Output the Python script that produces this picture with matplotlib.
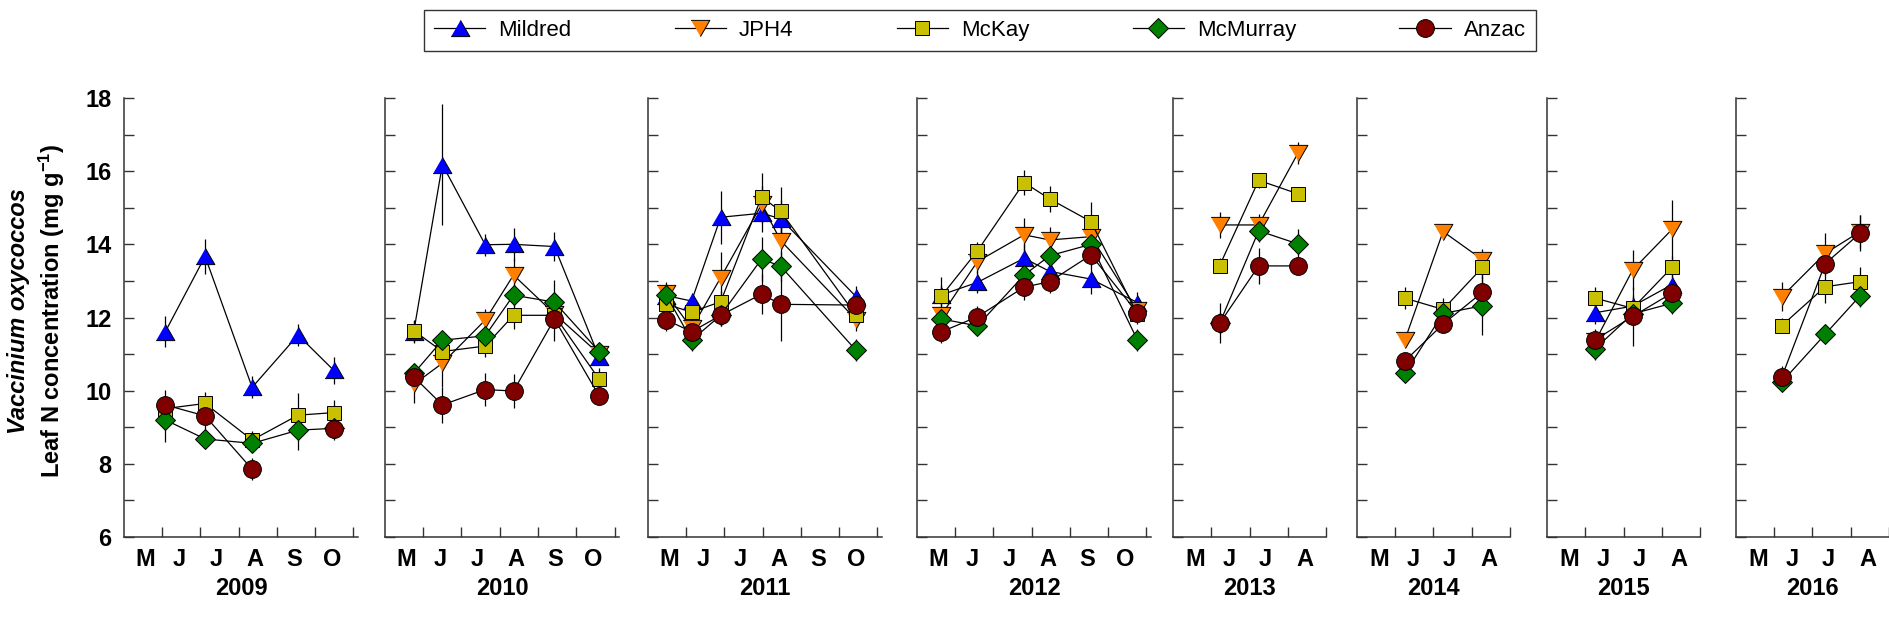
import numpy as np
import matplotlib
matplotlib.use("Agg")
import matplotlib.pyplot as plt
from matplotlib.lines import Line2D

plt.rcParams['font.family'] = ['Liberation Sans', 'DejaVu Sans']
plt.rcParams['mathtext.fontset'] = 'custom'
plt.rcParams['mathtext.rm'] = 'Liberation Sans:bold'
plt.rcParams['mathtext.bf'] = 'Liberation Sans:bold'
plt.rcParams['mathtext.default'] = 'bf'

nan = np.nan

years = ['2009', '2010', '2011', '2012', '2013', '2014', '2015', '2016']
months_long = ['M', 'J', 'J', 'A', 'S', 'O']
months_short = ['M', 'J', 'J', 'A']
series_names = ['Mildred', 'JPH4', 'McKay', 'McMurray', 'Anzac']

# sampling dates (months after 1 May)
dates = {
    '2009': [1.08, 2.12, 3.35, 4.55, 5.48],
    '2010': [0.75, 1.50, 2.62, 3.36, 4.43, 5.60],
    '2011': [0.47, 1.14, 1.90, 2.97, 3.47, 5.44],
    '2012': [0.64, 1.58, 2.80, 3.47, 4.55, 5.76],
    '2013': [1.22, 2.24, 3.27],
    '2014': [1.25, 2.25, 3.28],
    '2015': [1.26, 2.24, 3.27],
    '2016': [1.20, 2.33, 3.25],
}

mildred_mean = {
    '2009': [11.61, 13.67, 10.09, 11.52, 10.56],
    '2010': [11.60, 16.18, 13.99, 14.00, 13.94, 10.91],
    '2011': [12.60, 12.45, 14.74, 14.85, 14.70, 12.57],
    '2012': [12.62, 12.96, 13.62, 13.26, 13.05, 12.41],
    '2013': [nan, nan, nan],
    '2014': [nan, nan, nan],
    '2015': [12.13, 12.31, 12.90],
    '2016': [nan, nan, nan],
}
mildred_se = {
    '2009': [0.42, 0.47, 0.30, 0.30, 0.37],
    '2010': [0.30, 1.65, 0.30, 0.45, 0.40, 0.20],
    '2011': [0.30, 0.20, 0.72, 0.50, 0.50, 0.30],
    '2012': [0.50, 0.30, 0.40, 0.30, 0.40, 0.30],
    '2013': [nan, nan, nan],
    '2014': [nan, nan, nan],
    '2015': [0.30, 0.30, 0.30],
    '2016': [nan, nan, nan],
}

jph4_mean = {
    '2009': [nan, nan, nan, nan, nan],
    '2010': [10.17, 10.75, 11.93, 13.16, 12.10, 11.00],
    '2011': [12.66, 11.70, 13.09, 15.09, 14.10, 11.94],
    '2012': [12.07, 13.53, 14.26, 14.12, 14.21, 12.20],
    '2013': [14.53, 14.53, 16.50],
    '2014': [11.38, 14.35, 13.58],
    '2015': [11.35, 13.30, 14.41],
    '2016': [12.57, 13.75, 14.35],
}
jph4_se = {
    '2009': [nan, nan, nan, nan, nan],
    '2010': [0.50, 0.65, 0.30, 0.45, 0.30, 0.20],
    '2011': [0.30, 0.30, 0.70, 0.50, 0.40, 0.30],
    '2012': [0.20, 0.30, 0.45, 0.35, 0.30, 0.20],
    '2013': [0.35, 0.30, 0.30],
    '2014': [0.20, 0.20, 0.30],
    '2015': [0.30, 0.55, 0.80],
    '2016': [0.40, 0.55, 0.45],
}

mckay_mean = {
    '2009': [9.51, 9.65, 8.65, 9.33, 9.40],
    '2010': [11.64, 11.07, 11.22, 12.06, 12.06, 10.31],
    '2011': [12.36, 12.15, 12.43, 15.30, 14.90, 12.06],
    '2012': [12.59, 13.82, 15.69, 15.24, 14.62, 12.09],
    '2013': [13.42, 15.75, 15.38],
    '2014': [12.53, 12.22, 13.37],
    '2015': [12.53, 12.25, 13.37],
    '2016': [11.78, 12.84, 12.98],
}
mckay_se = {
    '2009': [0.20, 0.30, 0.25, 0.60, 0.35],
    '2010': [0.30, 0.30, 0.30, 0.38, 0.30, 0.30],
    '2011': [0.30, 0.30, 0.30, 0.65, 0.68, 0.30],
    '2012': [0.30, 0.25, 0.35, 0.35, 0.55, 0.20],
    '2013': [0.20, 0.20, 0.20],
    '2014': [0.30, 0.30, 0.30],
    '2015': [0.30, 0.30, 0.30],
    '2016': [0.20, 0.45, 0.40],
}

mcmurray_mean = {
    '2009': [9.20, 8.68, 8.56, 8.92, 8.97],
    '2010': [10.47, 11.38, 11.50, 12.61, 12.42, 11.07],
    '2011': [12.62, 11.38, 12.06, 13.60, 13.40, 11.10],
    '2012': [11.96, 11.77, 13.16, 13.69, 14.00, 11.39],
    '2013': [11.84, 14.37, 14.01],
    '2014': [10.47, 12.11, 12.32],
    '2015': [11.15, 12.10, 12.39],
    '2016': [10.24, 11.54, 12.60],
}
mcmurray_se = {
    '2009': [0.60, 0.20, 0.20, 0.55, 0.20],
    '2010': [0.20, 0.20, 0.30, 0.30, 0.60, 0.20],
    '2011': [0.30, 0.30, 0.30, 0.60, 0.40, 0.30],
    '2012': [0.20, 0.20, 0.30, 0.30, 0.30, 0.30],
    '2013': [0.20, 0.30, 0.40],
    '2014': [0.20, 0.20, 0.80],
    '2015': [0.30, 0.30, 0.30],
    '2016': [0.20, 0.20, 0.30],
}

anzac_mean = {
    '2009': [9.61, 9.31, 7.85, nan, 8.95],
    '2010': [10.38, 9.61, 10.03, 9.99, 11.96, 9.85],
    '2011': [11.94, 11.61, 12.06, 12.64, 12.36, 12.34],
    '2012': [11.61, 12.02, 12.83, 12.98, 13.71, 12.13],
    '2013': [11.84, 13.41, 13.41],
    '2014': [10.81, 11.82, 12.69],
    '2015': [11.39, 12.03, 12.67],
    '2016': [10.38, 13.47, 14.31],
}
anzac_se = {
    '2009': [0.40, 0.50, 0.30, nan, 0.30],
    '2010': [0.30, 0.50, 0.45, 0.47, 0.60, 0.25],
    '2011': [0.30, 0.30, 0.30, 0.55, 1.00, 0.30],
    '2012': [0.30, 0.30, 0.35, 0.30, 0.30, 0.30],
    '2013': [0.55, 0.50, 0.20],
    '2014': [0.20, 0.20, 0.50],
    '2015': [0.30, 0.80, 0.30],
    '2016': [0.30, 0.30, 0.50],
}

# ---------------- styling ----------------
tri_up = [(-1, -0.866), (1, -0.866), (0, 0.866)]
tri_dn = [(-1, 0.866), (1, 0.866), (0, -0.866)]
styles = [
    dict(marker=tri_up, mfc='#0000FF', ms=13.5),
    dict(marker=tri_dn, mfc='#FF8000', ms=13.5),
    dict(marker='s', mfc='#C8C000', ms=10.5),
    dict(marker='D', mfc='#008000', ms=10.0),
    dict(marker='o', mfc='#800000', ms=12.8),
]
means = [mildred_mean, jph4_mean, mckay_mean, mcmurray_mean, anzac_mean]
ses = [mildred_se, jph4_se, mckay_se, mcmurray_se, anzac_se]

W, H = 1890, 639
fig = plt.figure(figsize=(W / 100, H / 100), dpi=100)

px_per_month = 38.25
lefts_px = [124, 385, 648, 917, 1173, 1357, 1547, 1736]
xmax = [6.13, 6.13, 6.13, 6.13, 4.0, 4.0, 4.0, 4.0]
bottom_px, top_px = 537, 98
spine_col = '#333333'

label_pos_long = [0.55, 1.45, 2.42, 3.42, 4.45, 5.45]
label_pos_short = [0.58, 1.46, 2.42, 3.45]

for i, yr in enumerate(years):
    wpx = xmax[i] * px_per_month
    ax = fig.add_axes([lefts_px[i] / W, 1 - bottom_px / H, wpx / W, (bottom_px - top_px) / H])
    ax.set_facecolor('none')
    x = np.array(dates[yr])
    for s in range(5):
        y = np.array(means[s][yr], dtype=float)
        e = np.array(ses[s][yr], dtype=float)
        st = styles[s]
        ax.errorbar(x, y, yerr=e, fmt='none', ecolor='black', elinewidth=0.9,
                    capsize=0, zorder=2 + s * 0.1)
        ax.plot(x, y, color='black', lw=0.9, marker=st['marker'], ms=st['ms'],
                mfc=st['mfc'], mec='black', mew=0.7, zorder=3 + s * 0.1)
    ax.set_xlim(0, xmax[i])
    ax.set_ylim(6, 18)
    for sp in ['top', 'right']:
        ax.spines[sp].set_visible(False)
    for sp in ['left', 'bottom']:
        ax.spines[sp].set_color(spine_col)
        ax.spines[sp].set_linewidth(1.1)
    ax.set_yticks(np.arange(6, 19, 2))
    ax.set_yticks(np.arange(7, 18, 2), minor=True)
    ax.tick_params(axis='y', which='both', direction='in', length=7, width=1.0,
                   color=spine_col, labelsize=17, pad=9)
    if i == 0:
        for lab in ax.get_yticklabels():
            lab.set_fontweight('bold')
    else:
        ax.tick_params(axis='y', which='both', labelleft=False)
    nmaj = int(np.floor(xmax[i]))
    ax.set_xticks(np.arange(1, nmaj + 1))
    ax.set_xticklabels([])
    if xmax[i] > 5:
        lp, ll = label_pos_long, months_long
    else:
        lp, ll = label_pos_short, months_short
    ax.set_xticks(lp, minor=True)
    ax.set_xticklabels(ll, minor=True, fontsize=17, fontweight='bold')
    ax.tick_params(axis='x', which='major', direction='in', length=7, width=1.0, color=spine_col)
    ax.tick_params(axis='x', which='minor', length=0, pad=8)
    ax.text(0.5, -0.118, yr, transform=ax.transAxes, ha='center', va='center',
            fontsize=17, fontweight='bold')

# y-axis label (two lines)
fig.text(19 / W, 0.513, 'Vaccinium oxycoccos', rotation=90, ha='center', va='center',
         fontsize=17, fontweight='bold', fontstyle='italic')
fig.text(52 / W, 0.513, 'Leaf N concentration (mg g$^{-1}$)', rotation=90, ha='center',
         va='center', fontsize=17, fontweight='bold')

# legend
handles = [Line2D([0], [0], color='black', lw=0.9, marker=st['marker'], ms=st['ms'],
                  mfc=st['mfc'], mec='black', mew=0.7) for st in styles]
leg = fig.legend(handles, series_names, loc='lower left',
                 bbox_to_anchor=(424 / W, 1 - 51 / H, 1112 / W, 43 / H),
                 mode='expand', ncol=5, fontsize=16, frameon=True, fancybox=False,
                 edgecolor='black', handlelength=2.3, handletextpad=0.6,
                 borderaxespad=0, borderpad=0.45)
leg.get_frame().set_linewidth(1.0)

fig.savefig('out.png', dpi=100)
